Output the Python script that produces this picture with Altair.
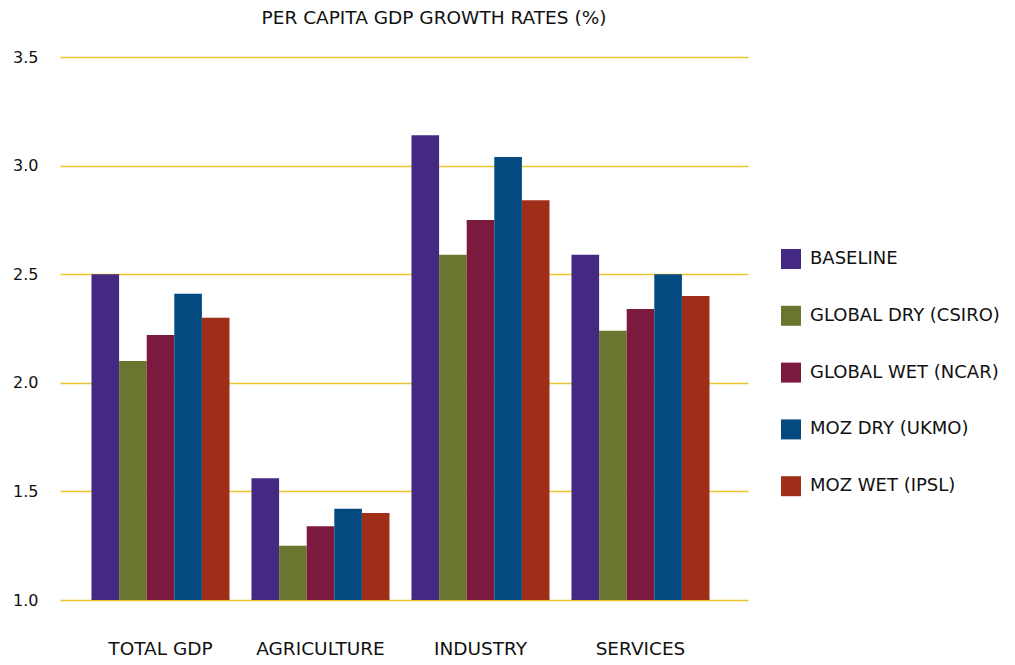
import altair as alt
import pandas as pd

categories = ["TOTAL GDP", "AGRICULTURE", "INDUSTRY", "SERVICES"]
scenarios = ["BASELINE", "GLOBAL DRY (CSIRO)", "GLOBAL WET (NCAR)", "MOZ DRY (UKMO)", "MOZ WET (IPSL)"]
colors = ["#442983", "#6B752F", "#7B1A3F", "#034A80", "#A02F1A"]

baseline = [2.50, 1.56, 3.14, 2.59]
global_dry = [2.10, 1.25, 2.59, 2.24]
global_wet = [2.22, 1.34, 2.75, 2.34]
moz_dry = [2.41, 1.42, 3.04, 2.50]
moz_wet = [2.30, 1.40, 2.84, 2.40]

series = [baseline, global_dry, global_wet, moz_dry, moz_wet]
rows = []
for s, vals in zip(scenarios, series):
    for c, v in zip(categories, vals):
        rows.append({"sector": c, "scenario": s, "value": v})
df = pd.DataFrame(rows)

FONT = "DejaVu Sans"

chart = alt.Chart(df).mark_bar(clip=True).encode(
    x=alt.X("sector:N", sort=categories, title=None,
            scale=alt.Scale(paddingInner=0.1375, paddingOuter=0.21875, align=0.45),
            axis=alt.Axis(labelAngle=0, labelFontSize=18.5, labelPadding=39, ticks=False,
                          domain=False, labelColor="#111111", labelFont=FONT)),
    xOffset=alt.XOffset("scenario:N", sort=scenarios,
                        scale=alt.Scale(paddingInner=0, paddingOuter=0)),
    y=alt.Y("value:Q", title=None,
            scale=alt.Scale(domain=[1.0, 3.5], nice=False, zero=False),
            axis=alt.Axis(values=[1.0, 1.5, 2.0, 2.5, 3.0, 3.5], format=".1f",
                          labelFontSize=16, labelPadding=22, ticks=False, domain=False,
                          gridColor="#EAC52E", gridWidth=1.5, gridOpacity=1,
                          labelColor="#111111", labelFont=FONT)),
    color=alt.Color("scenario:N", sort=scenarios, title=None,
                    scale=alt.Scale(domain=scenarios, range=colors),
                    legend=alt.Legend(orient="none", legendX=721, legendY=192,
                                      symbolType="square", symbolSize=400,
                                      symbolStrokeWidth=0, symbolOpacity=1,
                                      labelFontSize=18, labelFont=FONT,
                                      labelColor="#111111", labelOffset=9,
                                      rowPadding=36.8, labelLimit=400)),
).properties(
    width=688,
    height=543,
    title=alt.TitleParams("PER CAPITA GDP GROWTH RATES (%)", fontSize=18.5, font=FONT,
                          fontWeight="normal", color="#111111", anchor="middle",
                          dx=30, offset=22),
    autosize=alt.AutoSizeParams(type="none"),
    padding={"left": 52, "top": 49, "right": 259, "bottom": 57},
).configure_view(stroke=None)

chart.save("out.html", embed_options={"renderer": "svg", "actions": False})
